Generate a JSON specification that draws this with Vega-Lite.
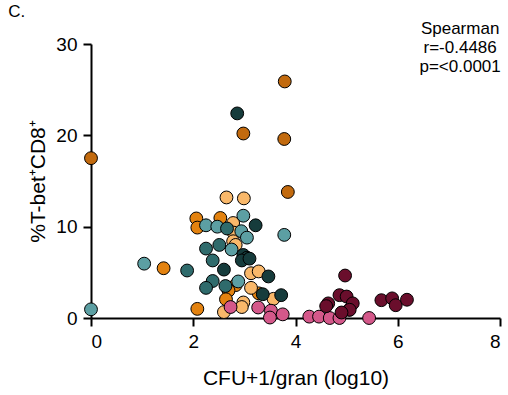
{
  "$schema": "https://vega.github.io/schema/vega-lite/v6.json",
  "width": 409,
  "height": 274,
  "autosize": "none",
  "padding": {"left": 91, "top": 44, "right": 8, "bottom": 77},
  "background": "white",
  "config": {
    "view": {"stroke": null},
    "font": "Liberation Sans",
    "axis": {
      "grid": false,
      "domainColor": "black",
      "domainWidth": 2,
      "tickColor": "black",
      "tickWidth": 2,
      "tickSize": 8,
      "labelColor": "black",
      "labelFontSize": 19,
      "labelFont": "Liberation Sans",
      "titleColor": "black",
      "titleFontSize": 21,
      "titleFont": "Liberation Sans",
      "titleFontWeight": "normal"
    }
  },
  "datasets": {
    "points": [
      {"group": "A", "cfu": 3.79, "tbet": 25.9},
      {"group": "A", "cfu": 2.98, "tbet": 20.2},
      {"group": "A", "cfu": 3.78, "tbet": 19.6},
      {"group": "A", "cfu": 0.0, "tbet": 17.5},
      {"group": "A", "cfu": 3.85, "tbet": 13.8},
      {"group": "B", "cfu": 2.06, "tbet": 10.9},
      {"group": "B", "cfu": 2.08, "tbet": 9.9},
      {"group": "B", "cfu": 2.53, "tbet": 10.95},
      {"group": "B", "cfu": 1.42, "tbet": 5.45},
      {"group": "B", "cfu": 2.83, "tbet": 3.6},
      {"group": "B", "cfu": 2.69, "tbet": 3.0},
      {"group": "B", "cfu": 3.28, "tbet": 2.7},
      {"group": "B", "cfu": 2.64, "tbet": 2.05},
      {"group": "B", "cfu": 2.08, "tbet": 1.0},
      {"group": "C", "cfu": 2.65, "tbet": 13.2},
      {"group": "C", "cfu": 2.99, "tbet": 13.1},
      {"group": "C", "cfu": 2.78, "tbet": 10.4},
      {"group": "C", "cfu": 2.79, "tbet": 9.35},
      {"group": "C", "cfu": 2.78, "tbet": 8.4},
      {"group": "C", "cfu": 2.83, "tbet": 8.0},
      {"group": "C", "cfu": 3.13, "tbet": 4.9},
      {"group": "C", "cfu": 3.28, "tbet": 5.1},
      {"group": "C", "cfu": 3.13, "tbet": 3.3},
      {"group": "C", "cfu": 3.57, "tbet": 2.1},
      {"group": "C", "cfu": 2.98, "tbet": 1.7},
      {"group": "C", "cfu": 2.95, "tbet": 1.2},
      {"group": "C", "cfu": 2.6, "tbet": 0.65},
      {"group": "D", "cfu": 2.25, "tbet": 10.15},
      {"group": "D", "cfu": 2.47, "tbet": 10.0},
      {"group": "D", "cfu": 2.98, "tbet": 11.2},
      {"group": "D", "cfu": 2.94, "tbet": 9.5},
      {"group": "D", "cfu": 3.05, "tbet": 8.8},
      {"group": "D", "cfu": 3.78, "tbet": 9.1},
      {"group": "D", "cfu": 2.75, "tbet": 7.5},
      {"group": "D", "cfu": 1.04, "tbet": 5.95},
      {"group": "D", "cfu": 2.88, "tbet": 4.0},
      {"group": "D", "cfu": 0.0, "tbet": 0.95},
      {"group": "E", "cfu": 2.66, "tbet": 9.8},
      {"group": "E", "cfu": 2.25, "tbet": 7.6},
      {"group": "E", "cfu": 2.51, "tbet": 8.0},
      {"group": "E", "cfu": 2.38, "tbet": 6.3},
      {"group": "E", "cfu": 1.88, "tbet": 5.2},
      {"group": "E", "cfu": 2.38, "tbet": 4.05},
      {"group": "E", "cfu": 2.25, "tbet": 3.3},
      {"group": "E", "cfu": 2.63, "tbet": 3.5},
      {"group": "F", "cfu": 2.86, "tbet": 22.4},
      {"group": "F", "cfu": 3.22, "tbet": 10.15},
      {"group": "F", "cfu": 2.98, "tbet": 6.9},
      {"group": "F", "cfu": 3.05, "tbet": 6.6},
      {"group": "F", "cfu": 2.95, "tbet": 6.3},
      {"group": "F", "cfu": 3.1, "tbet": 6.5},
      {"group": "F", "cfu": 2.6, "tbet": 5.3},
      {"group": "F", "cfu": 3.47, "tbet": 4.55},
      {"group": "F", "cfu": 3.36, "tbet": 2.6},
      {"group": "F", "cfu": 3.72, "tbet": 2.5},
      {"group": "G", "cfu": 2.73, "tbet": 1.2},
      {"group": "G", "cfu": 3.27, "tbet": 1.15},
      {"group": "G", "cfu": 3.52, "tbet": 0.8},
      {"group": "G", "cfu": 3.5, "tbet": 0.05},
      {"group": "G", "cfu": 3.75, "tbet": 0.4},
      {"group": "G", "cfu": 4.27, "tbet": 0.15},
      {"group": "G", "cfu": 4.46, "tbet": 0.15},
      {"group": "G", "cfu": 4.67, "tbet": 0.0},
      {"group": "G", "cfu": 4.86, "tbet": 0.0},
      {"group": "G", "cfu": 5.44, "tbet": 0.0},
      {"group": "G", "cfu": 5.05, "tbet": 0.9},
      {"group": "H", "cfu": 4.97, "tbet": 4.65},
      {"group": "H", "cfu": 4.86, "tbet": 2.5},
      {"group": "H", "cfu": 5.0, "tbet": 2.35},
      {"group": "H", "cfu": 5.12, "tbet": 1.6},
      {"group": "H", "cfu": 4.64, "tbet": 1.6},
      {"group": "H", "cfu": 4.6, "tbet": 1.3},
      {"group": "H", "cfu": 5.06, "tbet": 0.9},
      {"group": "H", "cfu": 4.9, "tbet": 0.6},
      {"group": "H", "cfu": 5.68, "tbet": 1.95},
      {"group": "H", "cfu": 5.89, "tbet": 2.15},
      {"group": "H", "cfu": 5.96, "tbet": 1.4},
      {"group": "H", "cfu": 6.18, "tbet": 2.0}
    ],
    "stats": [
      {"cfu": 7.22, "tbet": 31.67, "label": ["Spearman", "r=-0.4486", "p=<0.0001"]}
    ],
    "panel": [
      {"cfu": -1.62, "tbet": 33.5, "label": "C."}
    ]
  },
  "layer": [
    {
      "data": {"name": "points"},
      "mark": {"type": "point", "filled": true, "shape": "circle", "size": 165, "stroke": "black", "strokeWidth": 1, "opacity": 1},
      "encoding": {
        "x": {
          "field": "cfu", "type": "quantitative",
          "scale": {"domain": [0, 8], "nice": false, "zero": false},
          "axis": {"values": [0, 2, 4, 6, 8], "title": "CFU+1/gran (log10)", "labelPadding": 6, "titlePadding": 16}
        },
        "y": {
          "field": "tbet", "type": "quantitative",
          "scale": {"domain": [0, 30], "nice": false},
          "axis": {"values": [0, 10, 20, 30], "title": "%T-bet⁺CD8⁺", "labelPadding": 6, "titlePadding": 7}
        },
        "fill": {
          "field": "group", "type": "nominal",
          "scale": {
            "domain": ["A", "B", "C", "D", "E", "F", "G", "H"],
            "range": ["#c26a0e", "#e3820f", "#f9b86a", "#5c9fa3", "#2f6b6c", "#163c3c", "#d4588a", "#6a0e2c"]
          },
          "legend": null
        }
      }
    },
    {
      "data": {"name": "stats"},
      "mark": {"type": "text", "align": "center", "baseline": "middle", "fontSize": 17, "lineHeight": 19, "color": "black", "font": "Liberation Sans"},
      "encoding": {
        "x": {"field": "cfu", "type": "quantitative"},
        "y": {"field": "tbet", "type": "quantitative"},
        "text": {"field": "label"}
      }
    },
    {
      "data": {"name": "panel"},
      "mark": {"type": "text", "align": "left", "baseline": "middle", "fontSize": 17, "color": "black", "font": "Liberation Sans"},
      "encoding": {
        "x": {"field": "cfu", "type": "quantitative"},
        "y": {"field": "tbet", "type": "quantitative"},
        "text": {"field": "label"}
      }
    }
  ]
}
